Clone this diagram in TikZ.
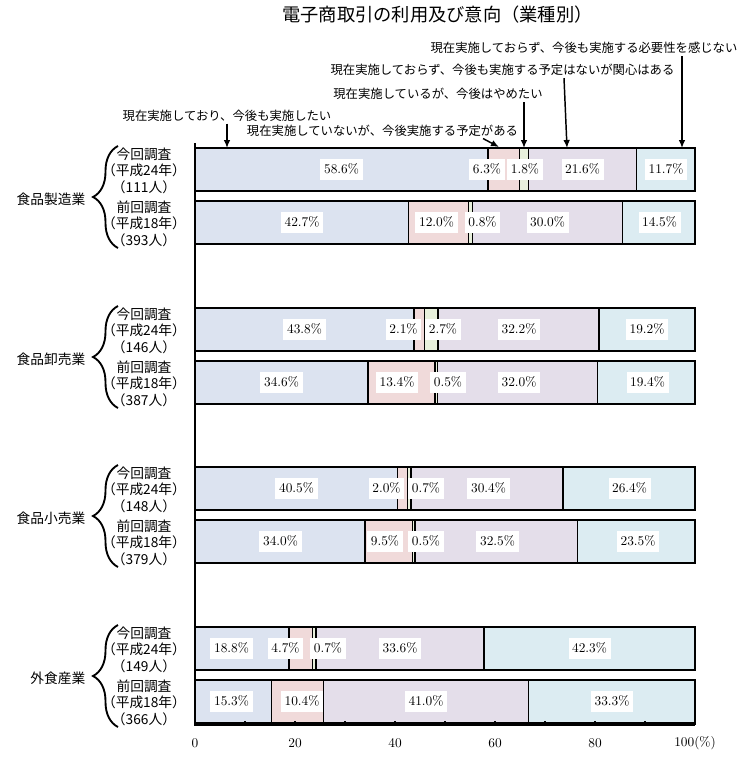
\documentclass[tikz,border=0pt]{standalone}
\usepackage{fontspec}
\newfontfamily\jp{Noto Sans CJK JP}
\newfontfamily\jph[RawFeature=+halt]{Noto Sans CJK JP}
\usetikzlibrary{arrows.meta,decorations.pathreplacing}

\definecolor{cnow}{RGB}{220,227,240}
\definecolor{cplan}{RGB}{240,218,218}
\definecolor{cstop}{RGB}{232,240,220}
\definecolor{cint}{RGB}{228,222,234}
\definecolor{cno}{RGB}{220,236,242}

\tikzset{
  seg/.style={draw=black,line width=1.1pt},
  pct/.style={fill=white,inner xsep=2.7pt,inner ysep=4pt,text height=7pt,text depth=0.6pt,font=\fontsize{10}{12}\selectfont},
  sub/.style={align=center,font=\jph\fontsize{10.3}{12.4}\selectfont},
  grp/.style={anchor=east,font=\jp\fontsize{10.3}{12}\selectfont},
  note/.style={inner sep=1.5pt,font=\jp\fontsize{9.26}{11}\selectfont},
  arr/.style={-{Latex[length=6pt,width=5pt]},line width=1.1pt},
  brc/.style={decorate,decoration={brace,amplitude=18.75pt},line width=1.4pt},
  axis/.style={line width=1.5pt}
}

\begin{document}
\begin{tikzpicture}[x=0.75pt,y=-0.75pt]
  \useasboundingbox (0,0) rectangle (755,760);

  % title and legend notes
  \node[font=\jp\fontsize{13.7}{16}\selectfont] (title) at (437.5,15) {電子商取引の利用及び意向（業種別）};
  \node[note] (t5) at (584,48) {現在実施しておらず、今後も実施する必要性を感じない};
  \node[note] (t4) at (502.5,70) {現在実施しておらず、今後も実施する予定はないが関心はある};
  \node[note] (t3) at (438,94) {現在実施しているが、今後はやめたい};
  \node[note] (t1) at (227,115.5) {現在実施しており、今後も実施したい};
  \node[note] (t2) at (382.5,130.5) {現在実施していないが、今後実施する予定がある};

  \coordinate (e1) at (227,148);
  \coordinate (s2) at (483,0);
  \coordinate (e2) at (499,147);
  \coordinate (e3) at (524,148);
  \coordinate (s4) at (564,0);
  \coordinate (e4) at (567,148);
  \coordinate (e5) at (682,148);

  % 食品製造業
  \begin{scope}[shift={(0,148)}]
    \node[grp] (g1) at (90,51) {食品製造業};
    \draw[brc] (118,100) -- (118,-2);
    \node[sub] (g1a) at (144,22.5) {今回調査\\（平成24年）\\（111人）};
    \node[sub] (g1b) at (144,75.5) {前回調査\\（平成18年）\\（393人）};
    \begin{scope}[shift={(195,0)},x=3.75pt]
      \filldraw[seg,fill=cnow] (0,0) rectangle (58.6,43);
      \filldraw[seg,fill=cplan] (58.6,0) rectangle (64.9,43);
      \filldraw[seg,fill=cstop] (64.9,0) rectangle (66.7,43);
      \filldraw[seg,fill=cint] (66.7,0) rectangle (88.3,43);
      \filldraw[seg,fill=cno] (88.3,0) rectangle (100,43);
      \filldraw[seg,fill=cnow] (0,53) rectangle (42.7,96);
      \filldraw[seg,fill=cplan] (42.7,53) rectangle (54.7,96);
      \filldraw[seg,fill=cstop] (54.7,53) rectangle (55.5,96);
      \filldraw[seg,fill=cint] (55.5,53) rectangle (85.5,96);
      \filldraw[seg,fill=cno] (85.5,53) rectangle (100,96);
      \node[pct] (g1a1) at (29.3,21.5) {58.6\%};
      \node[pct] (g1a2) at (58.4,21.5) {6.3\%};
      \node[pct] (g1a3) at (66,21.5) {1.8\%};
      \node[pct] (g1a4) at (77.5,21.5) {21.6\%};
      \node[pct] (g1a5) at (94.2,21.5) {11.7\%};
      \node[pct] (g1b1) at (21.4,74.5) {42.7\%};
      \node[pct] (g1b2) at (48.3,74.5) {12.0\%};
      \node[pct] (g1b3) at (57.5,74.5) {0.8\%};
      \node[pct] (g1b4) at (70.5,74.5) {30.0\%};
      \node[pct] (g1b5) at (92.9,74.5) {14.5\%};
    \end{scope}
  \end{scope}

  % 食品卸売業
  \begin{scope}[shift={(0,308)}]
    \node[grp] (g2) at (90,51) {食品卸売業};
    \draw[brc] (118,100) -- (118,-2);
    \node[sub] (g2a) at (144,22.5) {今回調査\\（平成24年）\\（146人）};
    \node[sub] (g2b) at (144,75.5) {前回調査\\（平成18年）\\（387人）};
    \begin{scope}[shift={(195,0)},x=3.75pt]
      \filldraw[seg,fill=cnow] (0,0) rectangle (43.8,43);
      \filldraw[seg,fill=cplan] (43.8,0) rectangle (45.9,43);
      \filldraw[seg,fill=cstop] (45.9,0) rectangle (48.6,43);
      \filldraw[seg,fill=cint] (48.6,0) rectangle (80.8,43);
      \filldraw[seg,fill=cno] (80.8,0) rectangle (100,43);
      \filldraw[seg,fill=cnow] (0,53) rectangle (34.6,96);
      \filldraw[seg,fill=cplan] (34.6,53) rectangle (48.0,96);
      \filldraw[seg,fill=cstop] (48.0,53) rectangle (48.5,96);
      \filldraw[seg,fill=cint] (48.5,53) rectangle (80.5,96);
      \filldraw[seg,fill=cno] (80.5,53) rectangle (100,96);
      \node[pct] (g2a1) at (21.9,21.5) {43.8\%};
      \node[pct] (g2a2) at (41.7,21.5) {2.1\%};
      \node[pct] (g2a3) at (49.6,21.5) {2.7\%};
      \node[pct] (g2a4) at (64.8,21.5) {32.2\%};
      \node[pct] (g2a5) at (90.4,21.5) {19.2\%};
      \node[pct] (g2b1) at (17.3,74.5) {34.6\%};
      \node[pct] (g2b2) at (40.4,74.5) {13.4\%};
      \node[pct] (g2b3) at (50.6,74.5) {0.5\%};
      \node[pct] (g2b4) at (64.8,74.5) {32.0\%};
      \node[pct] (g2b5) at (90.5,74.5) {19.4\%};
    \end{scope}
  \end{scope}

  % 食品小売業
  \begin{scope}[shift={(0,467)}]
    \node[grp] (g3) at (90,51) {食品小売業};
    \draw[brc] (118,100) -- (118,-2);
    \node[sub] (g3a) at (144,22.5) {今回調査\\（平成24年）\\（148人）};
    \node[sub] (g3b) at (144,75.5) {前回調査\\（平成18年）\\（379人）};
    \begin{scope}[shift={(195,0)},x=3.75pt]
      \filldraw[seg,fill=cnow] (0,0) rectangle (40.5,43);
      \filldraw[seg,fill=cplan] (40.5,0) rectangle (42.5,43);
      \filldraw[seg,fill=cstop] (42.5,0) rectangle (43.2,43);
      \filldraw[seg,fill=cint] (43.2,0) rectangle (73.6,43);
      \filldraw[seg,fill=cno] (73.6,0) rectangle (100,43);
      \filldraw[seg,fill=cnow] (0,53) rectangle (34.0,96);
      \filldraw[seg,fill=cplan] (34.0,53) rectangle (43.5,96);
      \filldraw[seg,fill=cstop] (43.5,53) rectangle (44.0,96);
      \filldraw[seg,fill=cint] (44.0,53) rectangle (76.5,96);
      \filldraw[seg,fill=cno] (76.5,53) rectangle (100,96);
      \node[pct] (g3a1) at (20.3,21.5) {40.5\%};
      \node[pct] (g3a2) at (38.3,21.5) {2.0\%};
      \node[pct] (g3a3) at (46.2,21.5) {0.7\%};
      \node[pct] (g3a4) at (58.7,21.5) {30.4\%};
      \node[pct] (g3a5) at (86.9,21.5) {26.4\%};
      \node[pct] (g3b1) at (17.1,74.5) {34.0\%};
      \node[pct] (g3b2) at (38,74.5) {9.5\%};
      \node[pct] (g3b3) at (46.2,74.5) {0.5\%};
      \node[pct] (g3b4) at (60.5,74.5) {32.5\%};
      \node[pct] (g3b5) at (88.6,74.5) {23.5\%};
    \end{scope}
  \end{scope}

  % 外食産業
  \begin{scope}[shift={(0,627)}]
    \node[grp] (g4) at (90,51) {外食産業};
    \draw[brc] (118,100) -- (118,-2);
    \node[sub] (g4a) at (144,22.5) {今回調査\\（平成24年）\\（149人）};
    \node[sub] (g4b) at (144,75.5) {前回調査\\（平成18年）\\（366人）};
    \begin{scope}[shift={(195,0)},x=3.75pt]
      \filldraw[seg,fill=cnow] (0,0) rectangle (18.8,43);
      \filldraw[seg,fill=cplan] (18.8,0) rectangle (23.5,43);
      \filldraw[seg,fill=cstop] (23.5,0) rectangle (24.2,43);
      \filldraw[seg,fill=cint] (24.2,0) rectangle (57.8,43);
      \filldraw[seg,fill=cno] (57.8,0) rectangle (100,43);
      \filldraw[seg,fill=cnow] (0,53) rectangle (15.3,96);
      \filldraw[seg,fill=cplan] (15.3,53) rectangle (25.7,96);
      \filldraw[seg,fill=cint] (25.7,53) rectangle (66.7,96);
      \filldraw[seg,fill=cno] (66.7,53) rectangle (100,96);
      \node[pct] (g4a1) at (7.3,21.5) {18.8\%};
      \node[pct] (g4a2) at (18.1,21.5) {4.7\%};
      \node[pct] (g4a3) at (26.6,21.5) {0.7\%};
      \node[pct] (g4a4) at (41,21.5) {33.6\%};
      \node[pct] (g4a5) at (78.9,21.5) {42.3\%};
      \node[pct] (g4b1) at (7.3,74.5) {15.3\%};
      \node[pct] (g4b2) at (21.4,74.5) {10.4\%};
      \node[pct] (g4b4) at (46.2,74.5) {41.0\%};
      \node[pct] (g4b5) at (83.4,74.5) {33.3\%};
    \end{scope}
  \end{scope}

  % axes
  \begin{scope}[shift={(195,0)},x=3.75pt]
    \draw[axis] (0,143) -- (0,725) -- (100,725);
    \draw[line width=1pt] (10,725) -- (10,721) (20,725) -- (20,721) (30,725) -- (30,721)
      (40,725) -- (40,721) (50,725) -- (50,721) (60,725) -- (60,721) (70,725) -- (70,721)
      (80,725) -- (80,721) (90,725) -- (90,721) (100,725) -- (100,721);
    \node (l0) at (0,743) {0};
    \node (l20) at (20,743) {20};
    \node (l40) at (40,743) {40};
    \node (l60) at (60,743) {60};
    \node (l80) at (80,743) {80};
    \node (l100) at (100,743) {100(\%)};
  \end{scope}

  % arrows
  \draw[arr] (t1.south -| e1) -- (e1);
  \draw[arr] (t2.south -| s2) -- (e2);
  \draw[arr] (t3.south -| e3) -- (e3);
  \draw[arr] (t4.south -| s4) -- (e4);
  \draw[arr] (t5.south -| e5) -- (e5);
\end{tikzpicture}
\end{document}
